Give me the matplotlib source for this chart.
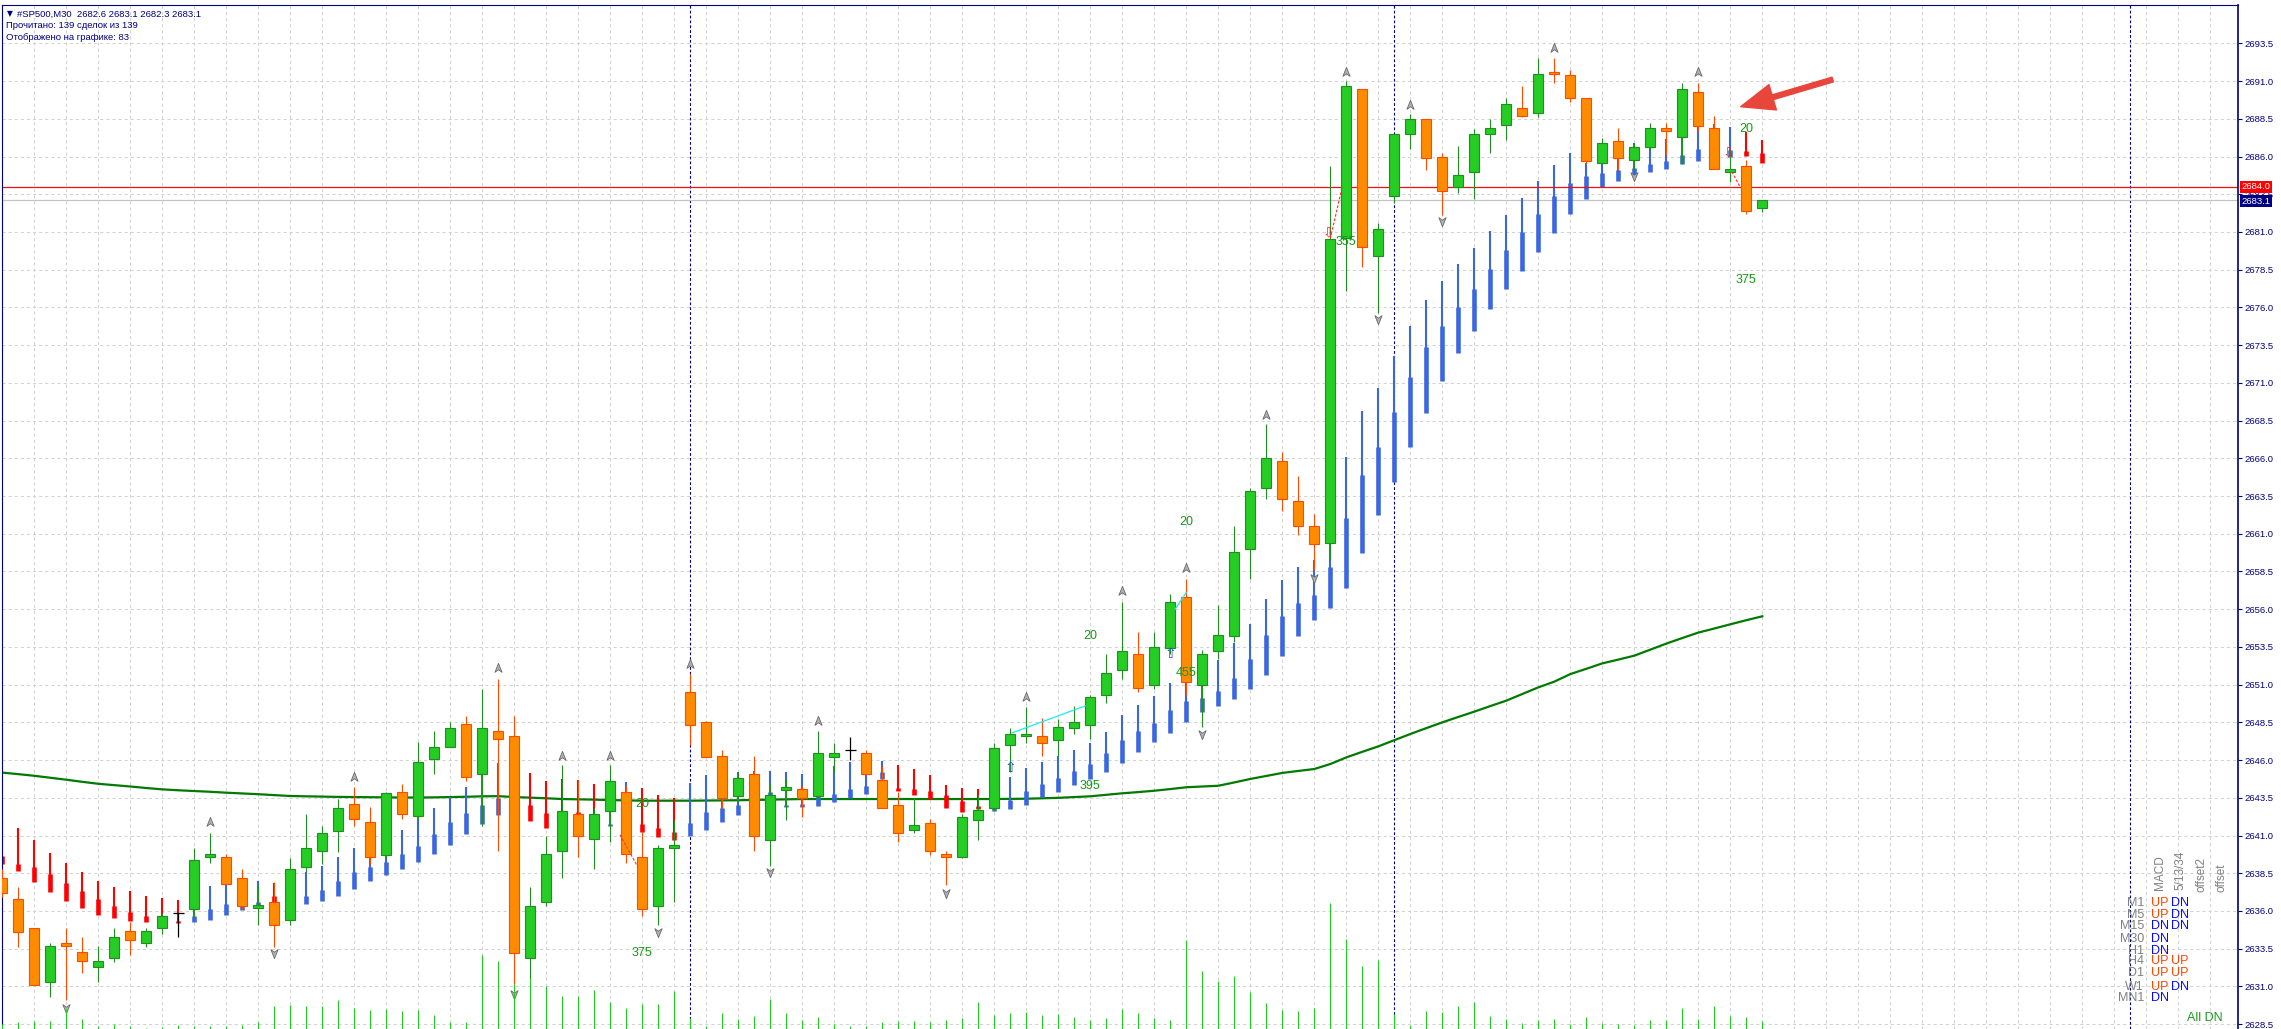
import numpy as np
import matplotlib
matplotlib.use('Agg')
import matplotlib.pyplot as plt
from matplotlib.path import Path

plt.rcParams['font.family'] = ['Liberation Sans', 'DejaVu Sans']
plt.rcParams['lines.scale_dashes'] = False

# ---- #SP500 M30 bars, oldest first ----
opens = [2638.2, 2636.8, 2634.9, 2631.3, 2633.9, 2633.3, 2632.3, 2632.9, 2634.7, 2633.9,
         2634.9, 2635.9, 2636.1, 2639.6, 2639.6, 2638.2, 2636.2, 2636.6, 2635.4, 2638.9,
         2640.0, 2641.3, 2643.1, 2641.9, 2639.7, 2643.9, 2642.3, 2646.1, 2646.9, 2648.4,
         2645.1, 2647.9, 2647.6, 2632.9, 2636.6, 2640.0, 2642.4, 2640.8, 2642.6, 2643.9,
         2639.6, 2636.3, 2640.2, 2650.5, 2648.5, 2646.3, 2643.6, 2645.1, 2640.7, 2644.0,
         2644.1, 2643.6, 2646.2, 2646.7, 2646.5, 2644.7, 2643.0, 2641.4, 2641.8, 2639.8,
         2639.6, 2642.0, 2642.8, 2647.0, 2647.6, 2647.6, 2647.3, 2648.1, 2648.3, 2650.3,
         2652.0, 2653.0, 2651.0, 2653.4, 2656.8, 2651.0, 2653.2, 2654.2, 2660.0, 2664.0,
         2665.8, 2663.2, 2661.5, 2660.4, 2680.6, 2690.5, 2679.4, 2683.4, 2687.5, 2688.5,
         2686.0, 2684.0, 2685.0, 2687.5, 2688.1, 2689.2, 2688.9, 2691.6, 2691.4, 2689.9,
         2685.6, 2687.0, 2685.8, 2686.6, 2687.9, 2687.3, 2690.3, 2687.9, 2685.0, 2685.4,
         2682.6]
highs = [2638.8, 2637.6, 2634.9, 2633.9, 2634.9, 2634.3, 2633.7, 2634.9, 2635.3, 2634.9,
         2635.9, 2635.9, 2640.2, 2641.2, 2639.8, 2638.8, 2637.7, 2637.9, 2639.5, 2642.4,
         2641.6, 2643.4, 2644.2, 2642.9, 2643.9, 2644.4, 2647.2, 2647.9, 2648.5, 2648.9,
         2650.7, 2651.4, 2648.9, 2637.6, 2641.0, 2645.7, 2644.7, 2642.8, 2645.7, 2644.3,
         2641.3, 2640.4, 2642.0, 2651.7, 2648.6, 2646.7, 2645.2, 2646.3, 2644.5, 2644.8,
         2644.3, 2647.9, 2647.1, 2647.5, 2646.7, 2645.6, 2643.9, 2643.5, 2642.1, 2640.0,
         2642.4, 2643.7, 2647.1, 2648.1, 2649.5, 2648.8, 2648.7, 2649.6, 2650.3, 2653.0,
         2656.5, 2654.5, 2654.5, 2657.0, 2658.0, 2653.3, 2656.3, 2661.5, 2664.0, 2668.3,
         2666.4, 2664.8, 2662.3, 2685.4, 2691.0, 2690.5, 2681.6, 2687.5, 2688.8, 2688.5,
         2686.2, 2686.7, 2687.8, 2688.5, 2689.9, 2690.7, 2692.5, 2692.5, 2691.7, 2689.9,
         2687.2, 2687.9, 2686.9, 2688.2, 2688.2, 2690.9, 2690.9, 2688.7, 2686.5, 2685.8,
         2683.1]
lows = [2636.9, 2633.6, 2631.1, 2630.3, 2630.1, 2631.9, 2631.3, 2632.6, 2633.1, 2633.6,
        2634.5, 2634.3, 2635.6, 2639.2, 2637.8, 2636.1, 2635.1, 2633.6, 2635.1, 2638.6,
        2639.1, 2639.9, 2641.6, 2639.1, 2639.5, 2642.1, 2642.0, 2645.1, 2646.9, 2644.6,
        2641.6, 2640.0, 2630.8, 2631.5, 2636.3, 2638.2, 2639.6, 2638.8, 2640.6, 2639.2,
        2635.7, 2635.1, 2636.6, 2647.0, 2646.2, 2642.8, 2643.2, 2640.0, 2639.0, 2642.0,
        2642.2, 2643.4, 2645.2, 2646.0, 2645.0, 2642.8, 2640.6, 2641.2, 2639.7, 2637.7,
        2639.5, 2640.7, 2642.6, 2645.2, 2647.1, 2646.3, 2646.3, 2647.7, 2647.4, 2649.8,
        2651.4, 2650.5, 2650.7, 2653.0, 2650.3, 2648.2, 2652.7, 2653.8, 2658.0, 2663.3,
        2662.5, 2660.9, 2658.6, 2659.3, 2677.1, 2678.7, 2675.6, 2682.9, 2686.5, 2685.1,
        2682.1, 2683.6, 2683.2, 2686.2, 2687.1, 2688.6, 2688.6, 2690.9, 2689.6, 2685.5,
        2685.5, 2685.1, 2685.2, 2686.4, 2686.1, 2685.5, 2687.7, 2685.2, 2684.3, 2682.2,
        2682.3]
closes = [2637.2, 2634.6, 2631.1, 2633.7, 2633.7, 2632.7, 2632.7, 2634.3, 2634.1, 2634.7,
          2635.7, 2635.9, 2639.4, 2639.8, 2637.8, 2636.3, 2636.4, 2635.1, 2638.8, 2640.2,
          2641.2, 2642.8, 2642.1, 2639.6, 2643.8, 2642.4, 2645.9, 2646.9, 2648.1, 2644.9,
          2648.1, 2647.4, 2633.2, 2636.3, 2639.8, 2642.6, 2641.0, 2642.4, 2644.6, 2639.8,
          2636.1, 2640.2, 2640.4, 2648.3, 2646.2, 2643.5, 2644.8, 2641.0, 2643.7, 2644.2,
          2643.5, 2646.5, 2646.5, 2646.7, 2645.1, 2642.8, 2641.2, 2641.7, 2640.0, 2639.6,
          2642.2, 2642.7, 2646.8, 2647.7, 2647.7, 2647.1, 2648.2, 2648.5, 2650.2, 2651.8,
          2653.2, 2650.8, 2653.5, 2656.5, 2651.2, 2653.0, 2654.3, 2659.8, 2663.8, 2666.0,
          2663.3, 2661.5, 2660.3, 2680.5, 2690.7, 2680.0, 2681.2, 2687.5, 2688.5, 2685.9,
          2683.7, 2684.8, 2687.5, 2687.9, 2689.5, 2688.7, 2691.5, 2691.5, 2689.9, 2685.7,
          2686.9, 2685.9, 2686.6, 2687.9, 2687.7, 2690.5, 2688.0, 2685.2, 2685.2, 2682.4,
          2683.1]

# tick volume (relative)
volume = [5, 7, 8, 8, 20, 10, 3, 5, 3, 1, 2, 4, 3, 3, 3, 4, 7, 23, 24, 23,
          23, 29, 21, 19, 20, 18, 19, 14, 7, 7, 74, 68, 45, 50, 43, 33, 33, 39, 27, 21,
          25, 25, 38, 11, 3, 16, 10, 13, 30, 16, 9, 12, 5, 3, 3, 7, 8, 8, 7, 9,
          11, 27, 14, 16, 17, 14, 15, 12, 9, 11, 20, 16, 11, 9, 89, 58, 48, 53, 37, 26,
          19, 18, 21, 126, 90, 63, 69, 15, 4, 18, 17, 23, 27, 13, 10, 6, 9, 10, 5, 12,
          6, 5, 4, 9, 9, 21, 10, 23, 13, 12, 8]

# slow moving average (green line)
ma_slow = [2645.17, 2645.07, 2644.96, 2644.83, 2644.70, 2644.56, 2644.43, 2644.34, 2644.25, 2644.15,
           2644.06, 2644.00, 2643.95, 2643.90, 2643.84, 2643.79, 2643.74, 2643.68, 2643.62, 2643.60,
           2643.58, 2643.56, 2643.55, 2643.54, 2643.53, 2643.52, 2643.52, 2643.53, 2643.55, 2643.57,
           2643.60, 2643.61, 2643.55, 2643.51, 2643.47, 2643.42, 2643.40, 2643.38, 2643.35, 2643.33,
           2643.31, 2643.31, 2643.31, 2643.31, 2643.32, 2643.33, 2643.34, 2643.36, 2643.38, 2643.40,
           2643.42, 2643.42, 2643.42, 2643.42, 2643.42, 2643.42, 2643.42, 2643.42, 2643.42, 2643.42,
           2643.42, 2643.42, 2643.42, 2643.43, 2643.44, 2643.47, 2643.50, 2643.55, 2643.60, 2643.70,
           2643.80, 2643.88, 2643.97, 2644.08, 2644.20, 2644.25, 2644.30, 2644.52, 2644.75, 2644.95,
           2645.15, 2645.28, 2645.41, 2645.74, 2646.18, 2646.55, 2646.91, 2647.32, 2647.73, 2648.12,
           2648.50, 2648.86, 2649.21, 2649.58, 2649.94, 2650.38, 2650.82, 2651.20, 2651.70, 2652.05,
           2652.41, 2652.66, 2652.92, 2653.32, 2653.72, 2654.09, 2654.45, 2654.72, 2655.00, 2655.27,
           2655.53]

# trend bars indicator: top, thick-part top, bottom, direction
ind_hi = [2641.99, 2641.50, 2640.71, 2639.84, 2639.18, 2638.56, 2637.99, 2637.57, 2637.30, 2636.97,
          2636.86, 2636.73, 2636.13, 2637.68, 2637.79, 2637.24, 2638.01, 2637.86, 2638.34, 2638.56,
          2639.00, 2639.56, 2640.17, 2639.67, 2639.73, 2641.39, 2642.32, 2642.83, 2643.53, 2644.24,
          2645.03, 2645.81, 2645.50, 2645.12, 2644.59, 2644.75, 2644.68, 2644.42, 2643.64, 2644.53,
          2644.13, 2643.69, 2643.47, 2644.48, 2645.01, 2643.53, 2645.19, 2645.30, 2645.26, 2645.19,
          2645.08, 2644.97, 2645.63, 2645.85, 2645.03, 2645.94, 2645.68, 2645.41, 2645.01, 2644.35,
          2644.15, 2644.09, 2643.20, 2644.86, 2645.48, 2645.85, 2646.25, 2646.67, 2647.13, 2647.88,
          2648.99, 2649.65, 2650.27, 2651.11, 2651.20, 2650.98, 2652.63, 2653.76, 2655.02, 2656.68,
          2657.93, 2658.80, 2659.26, 2660.36, 2666.11, 2669.16, 2670.68, 2672.80, 2674.79, 2676.49,
          2677.77, 2678.88, 2679.96, 2681.06, 2682.12, 2683.27, 2684.37, 2685.43, 2686.25, 2685.60,
          2685.59, 2685.94, 2686.87, 2686.60, 2687.15, 2687.31, 2688.04, 2688.15, 2687.97, 2687.64,
          2687.09]
ind_mid = [2639.67, 2639.11, 2638.89, 2638.45, 2637.86, 2637.30, 2636.80, 2636.31, 2635.91, 2635.65,
           2635.58, 2635.36, 2635.65, 2636.13, 2636.46, 2636.31, 2636.57, 2637.02, 2636.90, 2637.02,
           2637.41, 2638.01, 2638.61, 2638.89, 2639.22, 2639.78, 2640.29, 2641.10, 2641.88, 2642.49,
           2643.02, 2643.47, 2643.30, 2643.02, 2642.49, 2642.65, 2642.54, 2642.43, 2641.77, 2642.76,
           2641.77, 2641.48, 2641.26, 2641.83, 2642.54, 2642.80, 2643.02, 2643.64, 2643.86, 2643.02,
           2643.11, 2643.60, 2643.75, 2644.09, 2644.31, 2645.19, 2644.15, 2644.09, 2643.95, 2643.69,
           2643.31, 2642.98, 2642.80, 2643.36, 2643.97, 2644.42, 2644.81, 2645.28, 2645.74, 2646.47,
           2647.35, 2647.93, 2648.46, 2649.32, 2649.92, 2650.12, 2650.58, 2651.44, 2652.70, 2654.29,
           2655.55, 2656.41, 2656.94, 2658.80, 2662.07, 2664.89, 2666.77, 2669.09, 2671.41, 2673.40,
           2674.79, 2676.05, 2677.24, 2678.57, 2679.80, 2681.01, 2682.18, 2683.38, 2684.22, 2684.70,
           2684.88, 2685.10, 2685.21, 2685.50, 2685.70, 2686.09, 2686.49, 2686.65, 2686.40, 2686.36,
           2686.25]
ind_lo = [2639.11, 2638.67, 2637.94, 2637.24, 2636.68, 2636.22, 2635.76, 2635.51, 2635.36, 2635.25,
          2635.18, 2635.20, 2635.29, 2635.43, 2635.76, 2636.09, 2636.24, 2636.57, 2636.35, 2636.46,
          2636.68, 2637.02, 2637.46, 2638.01, 2638.39, 2638.78, 2639.27, 2639.80, 2640.37, 2641.10,
          2641.77, 2642.36, 2642.20, 2641.99, 2641.50, 2641.66, 2641.61, 2641.55, 2641.61, 2641.88,
          2641.26, 2640.88, 2640.73, 2640.99, 2641.39, 2641.92, 2642.38, 2642.76, 2643.42, 2642.87,
          2642.91, 2642.98, 2643.20, 2643.47, 2643.75, 2644.73, 2643.97, 2643.69, 2643.42, 2642.83,
          2642.58, 2642.76, 2642.65, 2642.76, 2643.02, 2643.53, 2643.91, 2644.35, 2644.75, 2645.23,
          2645.81, 2646.56, 2647.22, 2647.80, 2648.55, 2649.21, 2649.61, 2650.05, 2650.71, 2651.66,
          2652.92, 2654.22, 2655.28, 2656.08, 2657.40, 2659.70, 2662.24, 2664.45, 2666.77, 2669.02,
          2671.14, 2672.96, 2674.46, 2675.87, 2677.19, 2678.43, 2679.69, 2680.90, 2682.16, 2683.16,
          2683.95, 2684.39, 2684.70, 2684.99, 2685.19, 2685.48, 2685.72, 2685.98, 2685.98, 2686.03,
          2685.59]
ind_dir = ("rrrrrrrrrr" "rrbbbbbrbb" "bbbbbbbbbb" "bbrrrrrrbb" "rrrbbbbbbb" "bbbbbbrrrr"
           "rrbbbbbbbb" "bbbbbbbbbb" "bbbbbbbbbb" "bbbbbbbbbb" "bbbbbbbbbr" "r")

# fractal arrows
frac_up_i = [13, 22, 31, 35, 38, 43, 51, 64, 70, 74, 79, 84, 88, 97, 106]
frac_up_p = [2641.9, 2644.9, 2652.1, 2646.3, 2646.3, 2652.4, 2648.6, 2650.2, 2657.2, 2658.7,
             2668.9, 2691.6, 2689.4, 2693.2, 2691.6]
frac_dn_i = [4, 17, 32, 41, 48, 59, 75, 82, 86, 90, 102]
frac_dn_p = [2629.6, 2633.2, 2630.5, 2634.6, 2638.6, 2637.2, 2647.7, 2658.1, 2675.2, 2681.7, 2684.7]

# signal labels
lab_i = [40, 40, 68, 68, 74, 74, 84, 109, 109]
lab_p = [2643.1, 2633.2, 2654.25, 2644.26, 2661.76, 2651.77, 2680.36, 2687.82, 2677.81]
lab_txt = ['20', '375', '20', '395', '20', '455', '355', '20', '375']

# trade marks and lines
sell_i, sell_p = [83, 108], [2680.95, 2686.3]
buy_i, buy_p = [63, 73], [2645.5, 2653.0]
cyan_lines = [([63.1, 67.7], [2647.8, 2649.6]), ([73.3, 74.0], [2656.0, 2657.1])]
red_lines = [([83.0, 83.7], [2680.58, 2683.78]), ([108.1, 108.6], [2684.99, 2684.0]),
             ([38.6, 39.7], [2641.05, 2638.95])]
separators = [43, 87, 133]
level_line = 2684.0

# multi-timeframe panel
tf_names = ['M1', 'M5', 'M15', 'M30', 'H1', 'H4', 'D1', 'W1', 'MN1']
macd_sig = ['UP', 'UP', 'DN', 'DN', 'DN', 'UP', 'UP', 'UP', 'DN']
ma_sig = ['DN', 'DN', 'DN', '', '', 'UP', 'UP', 'DN', '']
panel_heads = ['MACD', '5/13/34', 'offset2', 'offset']
panel_total = 'All DN'

assert len(ind_dir) == len(opens) == len(closes) == len(volume) == len(ma_slow)

idx = np.arange(len(opens))
o, h, l, c = map(np.array, (opens, highs, lows, closes))

W, H = 2281, 1029
NAVY = '#000080'
fig = plt.figure(figsize=(W / 100, H / 100), dpi=100)
fig.patch.set_facecolor('white')


def fx(x):
    return x / W


def fy(y):
    return 1 - y / H


ax = fig.add_axes([2 / W, 0, 2236 / W, 1024 / H])
# volume axis sits above the grid of the price axis
vax = ax.twinx()
ax.set_zorder(1)
vax.set_zorder(2)
vax.patch.set_visible(False)

ax.set_xlim(-0.02, 139.73)
ax.set_ylim(2628.18, 2696.04)
vax.set_ylim(0, 1024)
vax.axis('off')

# volumes
vax.vlines(idx, 0, volume, color='#22cc22', lw=0.8)

# grid
ax.set_xticks(np.arange(0, 140, 2))
ax.set_yticks(np.arange(2628.5, 2694.0, 2.5))
ax.grid(True, color='#d2d2d2', lw=0.75, ls=(0, (2.2, 2.2)))
ax.set_axisbelow(True)
ax.tick_params(axis='x', length=0, labelbottom=False)
ax.yaxis.tick_right()
ax.tick_params(axis='y', direction='out', length=3, width=0.8, color=NAVY,
               labelcolor=NAVY, labelsize=6.8, pad=1.5)
ax.yaxis.set_major_formatter(matplotlib.ticker.FormatStrFormatter('%.1f'))
ax.spines['bottom'].set_visible(False)
for s in ('left', 'top'):
    ax.spines[s].set_color(NAVY)
    ax.spines[s].set_linewidth(0.8)
ax.spines['right'].set_color(NAVY)
ax.spines['right'].set_linewidth(1.2)

for sx in separators:
    ax.axvline(sx, color=NAVY, lw=0.8, ls=(0, (2.0, 1.5)), zorder=1)

# moving average
ax.plot(idx, ma_slow, color='#007a00', lw=1.6, zorder=2)

# trend bars indicator
dcol = ['#3a66e0' if d == 'b' else '#ff0000' for d in ind_dir]
ax.vlines(idx, ind_lo, ind_hi, colors=dcol, lw=1.5, zorder=2.2)
ax.vlines(idx, ind_lo, ind_mid, colors=dcol, lw=3.3, zorder=2.2)

# candles
up = c > o
dn = c < o
dj = c == o
ax.vlines(idx[up], l[up], h[up], color='#1f8f1f', lw=0.8, zorder=3)
ax.vlines(idx[dn], l[dn], h[dn], color='#ff4a00', lw=0.8, zorder=3)
ax.bar(idx[up], (c - o)[up], bottom=o[up], width=0.62, color='#24cc24',
       edgecolor='#1f8f1f', linewidth=0.8, zorder=4)
ax.bar(idx[dn], (c - o)[dn], bottom=o[dn], width=0.62, color='#ff8c00',
       edgecolor='#ff4a00', linewidth=0.8, zorder=4)
ax.vlines(idx[dj], l[dj], h[dj], color='black', lw=0.9, zorder=4)
ax.hlines(o[dj], idx[dj] - 0.33, idx[dj] + 0.33, color='black', lw=0.9, zorder=4)

# fractal arrows
up_mk = Path([(0, 1), (0.7, -0.75), (0, -0.25), (-0.7, -0.75), (0, 1)],
             [Path.MOVETO, Path.LINETO, Path.LINETO, Path.LINETO, Path.CLOSEPOLY])
dn_mk = Path([(0, -1), (0.7, 0.75), (0, 0.25), (-0.7, 0.75), (0, -1)],
             [Path.MOVETO, Path.LINETO, Path.LINETO, Path.LINETO, Path.CLOSEPOLY])
ax.scatter(frac_up_i, frac_up_p, marker=up_mk, s=55, c='#b0b0b0',
           edgecolors='#6a6a6a', linewidths=0.6, zorder=6)
ax.scatter(frac_dn_i, frac_dn_p, marker=dn_mk, s=55, c='#b0b0b0',
           edgecolors='#6a6a6a', linewidths=0.6, zorder=6)

# trade lines and arrows
for xs, ys in cyan_lines:
    ax.plot(xs, ys, color='#20e8f0', lw=0.9, zorder=5)
for xs, ys in red_lines:
    ax.plot(xs, ys, color='#ff3030', lw=0.8, ls=(0, (2, 1.2)), zorder=5)
for xi, yp in zip(sell_i, sell_p):
    ax.text(xi - 0.1, yp, '\u21e9', color='#ff2020', fontsize=10, ha='center',
            va='center', family=['DejaVu Sans'], zorder=6)
for xi, yp in zip(buy_i, buy_p):
    ax.text(xi, yp, '\u21e7', color='#1e3cff', fontsize=10, ha='center',
            va='center', family=['DejaVu Sans'], zorder=6)

for xi, yp, t in zip(lab_i, lab_p, lab_txt):
    ax.text(xi, yp, t, color='#129a12', fontsize=9, ha='center', va='center', zorder=6)

# level line and current price
ax.axhline(level_line, color='#ee1111', lw=0.9, zorder=2.5)
ax.axhline(closes[-1], color='#c4c4c4', lw=0.9, zorder=1.5)
yt = ax.get_yaxis_transform()
ax.text(1.0015, level_line, f'{level_line:.1f}', transform=yt, color='white',
        fontsize=6.8, va='center', ha='left', clip_on=False, zorder=10,
        bbox=dict(boxstyle='square,pad=0.15', fc='#ff0000', ec='none'))
ax.text(1.0015, closes[-1] - 0.05, f'{closes[-1]:.1f}', transform=yt, color='white',
        fontsize=6.8, va='center', ha='left', clip_on=False, zorder=10,
        bbox=dict(boxstyle='square,pad=0.15', fc='#000080', ec='none'))

# big red pointer
ax.annotate('', xy=(108.65, 2689.3), xytext=(114.4, 2691.1),
            arrowprops=dict(width=3.5, headwidth=19, headlength=24, shrink=0,
                            facecolor='#e8453b', edgecolor='#e8453b'), zorder=8)

# header text
fig.text(fx(7), fy(14), '\u25bc', fontsize=5.5, color=NAVY, va='center',
         family=['DejaVu Sans'])
fig.text(fx(17), fy(14), f'#SP500,M30  {opens[-1]:.1f} {highs[-1]:.1f} {lows[-1]:.1f} {closes[-1]:.1f}',
         fontsize=6.8, color=NAVY, va='center')
fig.text(fx(6), fy(26), 'Прочитано: 139 сделок из 139', fontsize=6.8, color=NAVY, va='center')
fig.text(fx(6), fy(38), 'Отображено на графике: 83', fontsize=6.8, color=NAVY, va='center')

# multi-timeframe panel
row_y = [903, 914.5, 926, 939, 950.5, 961.5, 973, 986.5, 998]
sig_col = {'UP': '#ff4500', 'DN': '#0a0aff'}
for name, s1, s2, ry in zip(tf_names, macd_sig, ma_sig, row_y):
    fig.text(fx(2144), fy(ry), name, ha='right', va='center', fontsize=9, color='#808080')
    fig.text(fx(2150.5), fy(ry), s1, ha='left', va='center', fontsize=9, color=sig_col[s1])
    if s2:
        fig.text(fx(2171), fy(ry), s2, ha='left', va='center', fontsize=9, color=sig_col[s2])
for head, hx, hy in zip(panel_heads, [2160, 2180, 2201.5, 2221.5], [890, 890, 891.5, 892.5]):
    fig.text(fx(hx), fy(hy), head, rotation=90, ha='center', va='bottom',
             fontsize=8.5, color='#808080')
fig.text(fx(2205), fy(1018), panel_total, ha='center', va='center', fontsize=9, color='#1a9a1a')

fig.savefig('out.png', dpi=100, facecolor='white')
